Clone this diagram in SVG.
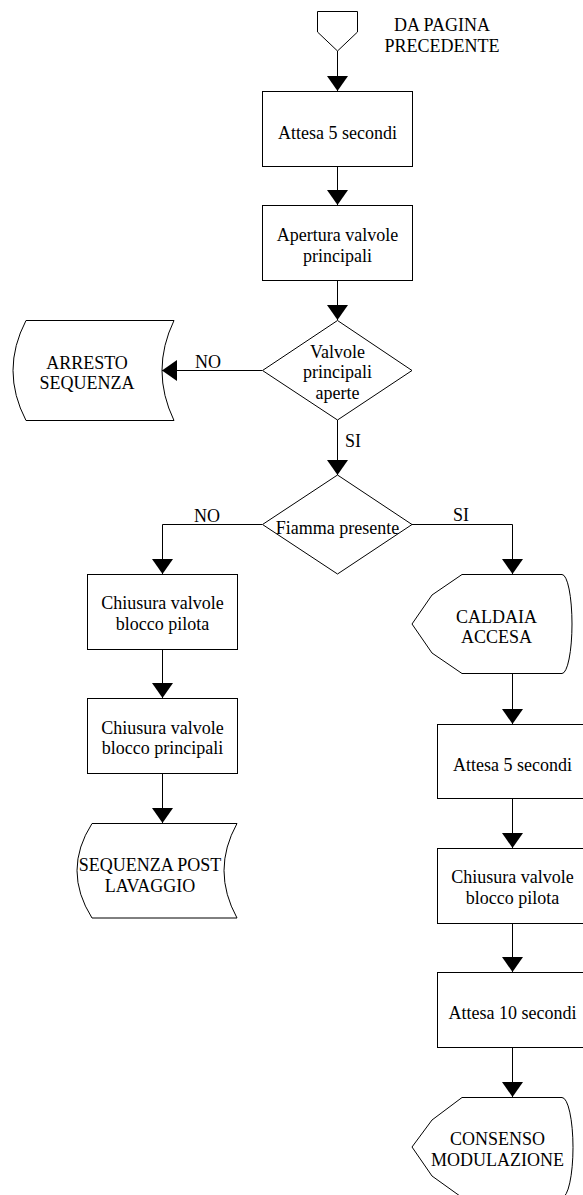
<svg xmlns="http://www.w3.org/2000/svg" width="583" height="1195" viewBox="0 0 583 1195">
<style>
.s{fill:#fff;stroke:#000;stroke-width:1}
.t{font-family:"Liberation Serif","Times New Roman",serif;font-size:18px;fill:#000;text-anchor:middle}
.l{font-family:"Liberation Serif","Times New Roman",serif;font-size:18px;fill:#000}
.c{fill:none;stroke:#000;stroke-width:1}
</style>
<defs>
<marker id="ah" viewBox="0 0 15 21" refX="15" refY="10.5" markerWidth="15" markerHeight="21" markerUnits="userSpaceOnUse" orient="auto">
<path d="M0,0 L15,10.5 L0,21 Z" fill="#000"/>
</marker>
</defs>
<rect width="583" height="1195" fill="#fff"/>
<g id="connectors">
<path class="c" d="M337.5,51 V91" marker-end="url(#ah)"/>
<path class="c" d="M337.5,166 V205" marker-end="url(#ah)"/>
<path class="c" d="M337.5,280 V320" marker-end="url(#ah)"/>
<path class="c" d="M262,370.5 H162" marker-end="url(#ah)"/>
<path class="c" d="M337.5,420 V475" marker-end="url(#ah)"/>
<path class="c" d="M262,524.5 H162.5 V574" marker-end="url(#ah)"/>
<path class="c" d="M412,524.5 H512.5 V574" marker-end="url(#ah)"/>
<path class="c" d="M162.5,649 V698" marker-end="url(#ah)"/>
<path class="c" d="M162.5,773 V823" marker-end="url(#ah)"/>
<path class="c" d="M512.5,673 V724" marker-end="url(#ah)"/>
<path class="c" d="M512.5,798 V848" marker-end="url(#ah)"/>
<path class="c" d="M512.5,923 V972" marker-end="url(#ah)"/>
<path class="c" d="M512.5,1047 V1097" marker-end="url(#ah)"/>
<text class="l" x="195" y="368">NO</text>
<text class="l" x="345" y="447">SI</text>
<text class="l" x="194" y="522">NO</text>
<text class="l" x="453" y="521">SI</text>
</g>
<g id="start">
<path class="s" d="M317.5,11.5 H357.5 V32 L337.5,51 L317.5,32 Z"/>
<text class="t" x="442" y="31">DA PAGINA</text>
<text class="t" x="442" y="52">PRECEDENTE</text>
</g>
<g id="wait1">
<rect class="s" x="262.5" y="91.5" width="150" height="75"/>
<text class="t" x="337.5" y="139">Attesa 5 secondi</text>
</g>
<g id="open-valves">
<rect class="s" x="262.5" y="205.5" width="150" height="75"/>
<text class="t" x="337.5" y="241">Apertura valvole</text>
<text class="t" x="337.5" y="262">principali</text>
</g>
<g id="check-valves">
<path class="s" d="M337.5,320.5 L412,370.5 L337.5,420 L262.5,370.5 Z"/>
<text class="t" x="337.5" y="358">Valvole</text>
<text class="t" x="337.5" y="378">principali</text>
<text class="t" x="337.5" y="399">aperte</text>
</g>
<g id="stop">
<path class="s" d="M26,320.5 H174 Q150,370.5 174,420.5 H26 Q0,370.5 26,320.5 Z"/>
<text class="t" x="87" y="368.5">ARRESTO</text>
<text class="t" x="87" y="389">SEQUENZA</text>
</g>
<g id="check-flame">
<path class="s" d="M337.5,475 L412,524.5 L337.5,574 L262.5,524.5 Z"/>
<text class="t" x="337.5" y="534">Fiamma presente</text>
</g>
<g id="close-pilot-left">
<rect class="s" x="87.5" y="574.5" width="150" height="75"/>
<text class="t" x="162.5" y="609">Chiusura valvole</text>
<text class="t" x="162.5" y="630">blocco pilota</text>
</g>
<g id="close-main-left">
<rect class="s" x="87.5" y="698.5" width="150" height="75"/>
<text class="t" x="162.5" y="733.5">Chiusura valvole</text>
<text class="t" x="162.5" y="754">blocco principali</text>
</g>
<g id="post-wash">
<path class="s" d="M92,823.5 H237 Q211,870.5 237,918 H92 Q62,870.5 92,823.5 Z"/>
<text class="t" x="150" y="871">SEQUENZA POST</text>
<text class="t" x="150" y="892">LAVAGGIO</text>
</g>
<g id="boiler-on">
<path class="s" d="M462,574.5 H562 A10,49.5 0 0 1 562,673.5 H462 L432,653 L412,624 L432,595 Z"/>
<text class="t" x="496.5" y="623">CALDAIA</text>
<text class="t" x="496.5" y="643">ACCESA</text>
</g>
<g id="wait2">
<rect class="s" x="437.5" y="724.5" width="150" height="74"/>
<text class="t" x="512.5" y="771">Attesa 5 secondi</text>
</g>
<g id="close-pilot-right">
<rect class="s" x="437.5" y="848.5" width="150" height="75"/>
<text class="t" x="512.5" y="883">Chiusura valvole</text>
<text class="t" x="512.5" y="903.5">blocco pilota</text>
</g>
<g id="wait3">
<rect class="s" x="437.5" y="972.5" width="150" height="75"/>
<text class="t" x="512.5" y="1019">Attesa 10 secondi</text>
</g>
<g id="modulation">
<path class="s" d="M462,1097.5 H562 A11,50 0 0 1 562,1197.5 H462 L432,1176 L412,1147 L432,1120 Z"/>
<text class="t" x="497.5" y="1145">CONSENSO</text>
<text class="t" x="497.5" y="1166">MODULAZIONE</text>
</g>
</svg>
